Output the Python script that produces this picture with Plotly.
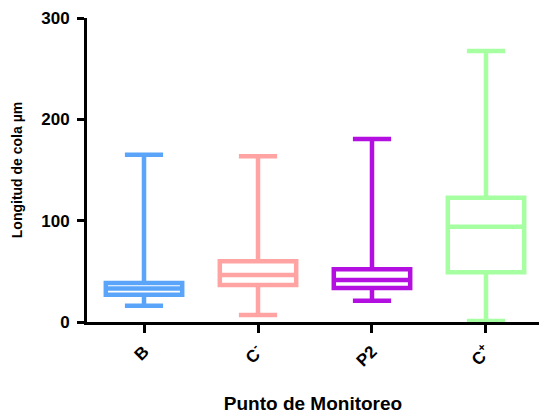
import plotly.graph_objects as go

# Summary statistics per monitoring point (tail length, µm)
categories = ["B", "C<sup>-</sup>", "P2", "C<sup>+</sup>"]
lower_fence = [16, 7, 21, 1]
q1_vals = [27, 36.5, 33.5, 49]
medians = [33, 46.5, 41.5, 94]
q3_vals = [38.5, 60, 52, 122.5]
upper_fence = [165, 163.5, 180.5, 267.5]
colors = ["#5aa5fa", "#ffa3a3", "#b30fe0", "#a6ffa0"]

font_family = "Liberation Sans, Arial, sans-serif"

fig = go.Figure()
for i, cat in enumerate(categories):
    fig.add_trace(go.Box(
        x=[cat],
        q1=[q1_vals[i]],
        median=[medians[i]],
        q3=[q3_vals[i]],
        lowerfence=[lower_fence[i]],
        upperfence=[upper_fence[i]],
        boxpoints=False,
        width=0.67,
        whiskerwidth=0.5,
        fillcolor="white",
        line=dict(color=colors[i], width=4.5),
        showlegend=False,
        hoverinfo="skip",
    ))

fig.update_layout(
    width=539,
    height=414,
    margin=dict(l=87, r=0, t=18, b=92),
    plot_bgcolor="white",
    paper_bgcolor="white",
    font=dict(family=font_family, color="black"),
    xaxis=dict(
        type="category",
        range=[-0.5, 3.465],
        showline=True,
        linecolor="black",
        linewidth=3,
        ticks="outside",
        ticklen=8,
        tickwidth=2.5,
        tickcolor="black",
        tickangle=-45,
        tickfont=dict(size=17, weight="bold"),
        ticklabelstandoff=2,
        showgrid=False,
        zeroline=False,
        title=dict(text="Punto de Monitoreo", font=dict(size=19, weight="bold"), standoff=28),
    ),
    yaxis=dict(
        range=[0, 300],
        tickvals=[0, 100, 200, 300],
        showline=True,
        linecolor="black",
        linewidth=3,
        ticks="outside",
        ticklen=7,
        tickwidth=2.5,
        tickcolor="black",
        tickfont=dict(size=17, weight="bold"),
        ticklabelstandoff=4,
        showgrid=False,
        zeroline=False,
        title=dict(text="Longitud de cola µm", font=dict(size=14, weight="bold"), standoff=16),
    ),
)

fig.write_html("out.html")
